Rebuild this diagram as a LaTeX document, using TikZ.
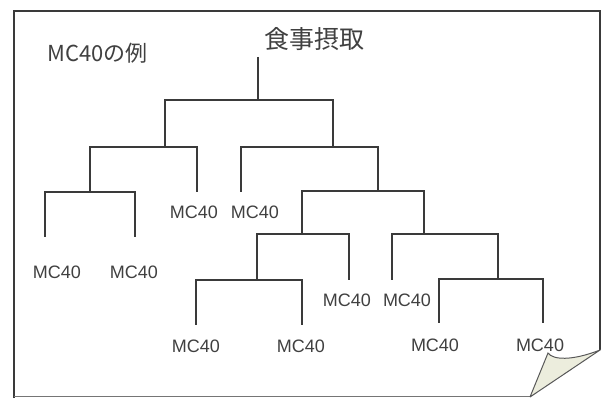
\documentclass[tikz,border=0pt]{standalone}
\usepackage{fontspec}
\setmainfont{Liberation Sans}
\newfontfamily\jpfont{Noto Sans CJK JP}
\definecolor{ink}{HTML}{3A3A3A}
\definecolor{txt}{HTML}{404040}
\definecolor{curl}{HTML}{ECEDDD}
\begin{document}
\begin{tikzpicture}[x=1pt,y=-1pt,
  branch/.style={draw=ink,line width=1.7pt},
  leaflabel/.style={text=txt,font=\fontsize{18}{18}\selectfont,inner sep=0pt},
  frame/.style={draw=ink,line width=1.4pt}]
\useasboundingbox (0,0) rectangle (601,398);
% frame
\coordinate (fbl) at (14,398);
\coordinate (ftl) at (14,11);
\coordinate (ftr) at (600,11);
\coordinate (fr) at (600,350);
\coordinate (fb0) at (14,396.5);
\coordinate (fb1) at (530,396.5);
\draw[frame] (fbl) -- (ftl) -- (ftr) -- (fr);
\draw[draw=ink!70,line width=1pt] (fb0) -- (fb1);
% page curl
\coordinate (ca) at (530,397);
\coordinate (cc) at (548,353);
\coordinate (cb) at (600,350);
\fill[curl] (ca) -- (cc) .. controls (553,360) and (572,361) .. (cb) -- cycle;
\draw[draw=ink!85,line width=1pt] (ca) -- (cc) .. controls (553,360) and (572,361) .. (cb) -- (ca);
% titles
\node[text=txt,font=\jpfont\fontsize{25}{25}\selectfont,inner sep=0pt] (root) at (314,39) {食事摂取};
\node[text=txt,font=\jpfont\fontsize{22}{22}\selectfont,inner sep=0pt,anchor=west] (ex) at (47,53) {MC40の例};
% junctions
\coordinate (stem) at (258,57);
\coordinate (n0) at (258,100);
\coordinate (n1) at (165,147);
\coordinate (n2) at (333,147);
\coordinate (n3) at (90,192);
\coordinate (n4) at (378,191);
\coordinate (n5) at (302,234);
\coordinate (n6) at (424,234);
\coordinate (n7) at (257,280);
\coordinate (n8) at (498,279);
% leaf ends
\coordinate (l1) at (45,237);
\coordinate (l2) at (135,237);
\coordinate (l3) at (197,192);
\coordinate (l4) at (241,192);
\coordinate (l5) at (349,280);
\coordinate (l6) at (392,280);
\coordinate (l7) at (196,325);
\coordinate (l8) at (302,325);
\coordinate (l9) at (439,323);
\coordinate (l10) at (543,323);
% tree
\draw[branch] (stem) -- (n0);
\draw[branch] (n0) -| (n1);
\draw[branch] (n0) -| (n2);
\draw[branch] (n1) -| (n3);
\draw[branch] (n1) -| (l3);
\draw[branch] (n3) -| (l1);
\draw[branch] (n3) -| (l2);
\draw[branch] (n2) -| (l4);
\draw[branch] (n2) -| (n4);
\draw[branch] (n4) -| (n5);
\draw[branch] (n4) -| (n6);
\draw[branch] (n5) -| (n7);
\draw[branch] (n5) -| (l5);
\draw[branch] (n6) -| (l6);
\draw[branch] (n6) -| (n8);
\draw[branch] (n7) -| (l7);
\draw[branch] (n7) -| (l8);
\draw[branch] (n8) -| (l9);
\draw[branch] (n8) -| (l10);
% leaf labels
\node[leaflabel] (t1) at (57,272) {MC40};
\node[leaflabel] (t2) at (134,272) {MC40};
\node[leaflabel] (t3) at (194,212) {MC40};
\node[leaflabel] (t4) at (255,212) {MC40};
\node[leaflabel] (t5) at (347,300) {MC40};
\node[leaflabel] (t6) at (407,300) {MC40};
\node[leaflabel] (t7) at (196,346) {MC40};
\node[leaflabel] (t8) at (301,346) {MC40};
\node[leaflabel] (t9) at (435,345) {MC40};
\node[leaflabel] (t10) at (540,345) {MC40};
\end{tikzpicture}
\end{document}
